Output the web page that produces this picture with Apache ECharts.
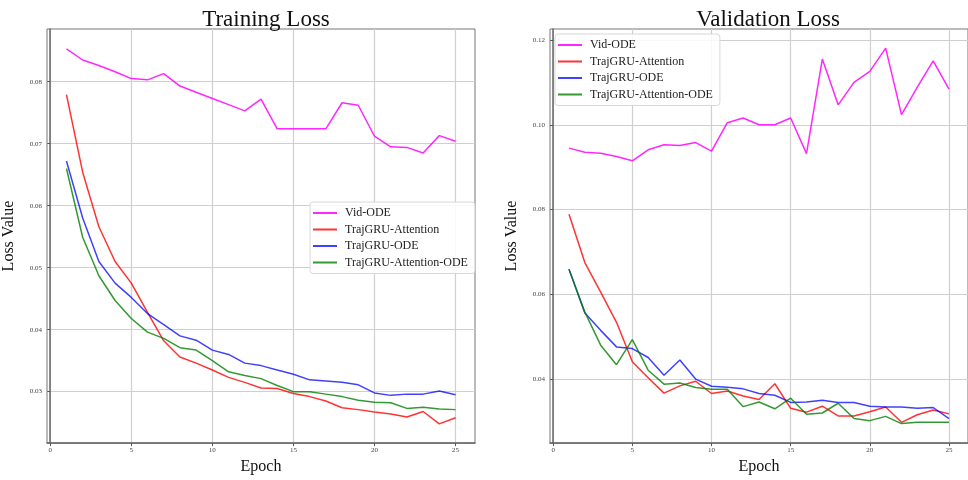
<!DOCTYPE html>
<html><head><meta charset="utf-8">
<script src="https://cdn.jsdelivr.net/npm/echarts@6/dist/echarts.min.js"></script>
<style>html,body{margin:0;padding:0;background:#fff}#c{width:968px;height:480px}</style>
</head><body><div id="c"></div>
<script>
const epochs = [1,2,3,4,5,6,7,8,9,10,11,12,13,14,15,16,17,18,19,20,21,22,23,24,25];
const seriesNames = ['Vid-ODE','TrajGRU-Attention','TrajGRU-ODE','TrajGRU-Attention-ODE'];
const xTicks = [0,5,10,15,20,25];
const trainTicks = [0.03,0.04,0.05,0.06,0.07,0.08];
const valTicks = [0.04,0.06,0.08,0.10,0.12];

const trainVidODE = [0.0853,0.0835,0.0826,0.0816,0.0805,0.0803,0.0813,0.0793,0.0783,0.0773,0.0763,0.0753,0.0772,0.0724,0.0724,0.0724,0.0724,0.0766,0.0762,0.0712,0.0695,0.0694,0.0685,0.0713,0.0704];
const trainAttn = [0.0779,0.0654,0.0566,0.0510,0.0475,0.0428,0.0382,0.0356,0.0346,0.0335,0.0323,0.0315,0.0306,0.0305,0.0297,0.0292,0.0285,0.0274,0.0271,0.0267,0.0264,0.0259,0.0268,0.0248,0.0258];
const trainODE = [0.0672,0.0580,0.0510,0.0475,0.0452,0.0426,0.0408,0.0390,0.0383,0.0367,0.0360,0.0346,0.0342,0.0335,0.0328,0.0319,0.0317,0.0315,0.0311,0.0298,0.0294,0.0296,0.0296,0.0301,0.0295];
const trainAttnODE = [0.0660,0.0549,0.0487,0.0447,0.0418,0.0396,0.0386,0.0371,0.0367,0.0350,0.0332,0.0326,0.0321,0.0310,0.0300,0.0300,0.0296,0.0292,0.0286,0.0283,0.0282,0.0273,0.0275,0.0272,0.0271];

const valVidODE = [0.0945,0.0935,0.0933,0.0925,0.0915,0.0941,0.0953,0.0951,0.0958,0.0938,0.1005,0.1016,0.1000,0.1000,0.1016,0.0932,0.1155,0.1047,0.1100,0.1126,0.1181,0.1024,0.1089,0.1151,0.1084];
const valAttn = [0.0789,0.0675,0.0605,0.0534,0.0441,0.0403,0.0367,0.0384,0.0395,0.0366,0.0372,0.0360,0.0352,0.0389,0.0331,0.0322,0.0336,0.0313,0.0313,0.0323,0.0334,0.0298,0.0316,0.0327,0.0318];
const valODE = [0.0659,0.0556,0.0515,0.0476,0.0472,0.0451,0.0409,0.0445,0.0400,0.0383,0.0381,0.0377,0.0366,0.0362,0.0345,0.0346,0.0350,0.0345,0.0345,0.0336,0.0334,0.0334,0.0331,0.0333,0.0307];
const valAttnODE = [0.0659,0.0558,0.0480,0.0434,0.0493,0.0421,0.0388,0.0391,0.0380,0.0376,0.0376,0.0335,0.0346,0.0330,0.0355,0.0317,0.0320,0.0343,0.0307,0.0302,0.0312,0.0295,0.0298,0.0298,0.0298];

const colors = ['rgba(255,0,255,0.85)','rgba(255,0,0,0.8)','rgba(0,0,255,0.75)','rgba(0,128,0,0.8)'];
const serif = "'Liberation Serif','Times New Roman',serif";

function pairs(arr){ return epochs.map((e,i)=>[e,arr[i]]); }

function xAxis(gi){
  return {
    type:'value', gridIndex:gi, min:-0.2, max:26.2,
    name:'Epoch', nameLocation:'middle', nameGap:12,
    nameTextStyle:{fontFamily:serif,fontSize:16,color:'#111'},
    axisLine:{show:true,lineStyle:{color:'#666',width:1.5}},
    axisTick:{show:true,length:3,customValues:xTicks,lineStyle:{color:'#555'}},
    axisLabel:{customValues:xTicks,fontFamily:serif,fontSize:7,color:'#444',margin:4,formatter:v=>String(v)},
    splitLine:{show:true,lineStyle:{color:'#cfcfcf',width:1.2}}
  };
}
function yAxis(gi,min,max,ticks){
  return {
    type:'value', gridIndex:gi, min:min, max:max,
    name:'Loss Value', nameLocation:'middle', nameGap:30,
    nameTextStyle:{fontFamily:serif,fontSize:16,color:'#111'},
    axisLine:{show:true,lineStyle:{color:'#666',width:1.5}},
    axisTick:{show:true,length:3,customValues:ticks,lineStyle:{color:'#555'}},
    axisLabel:{customValues:ticks,fontFamily:serif,fontSize:7,color:'#444',margin:5,formatter:v=>v.toFixed(2)},
    splitLine:{show:true,lineStyle:{color:'#cfcfcf',width:1.2}}
  };
}
function legend(left,top){
  return {
    orient:'vertical', left:left, top:top, data:seriesNames,
    icon:'rect', itemWidth:24, itemHeight:2, itemGap:4.5,
    backgroundColor:'rgba(255,255,255,0.85)', borderColor:'#d8d8d8', borderWidth:1, borderRadius:3,
    padding:[5,7,5,3],
    textStyle:{fontFamily:serif,fontSize:12,color:'#222',padding:[0,0,0,3]},
    selectedMode:false
  };
}
const trainData = [trainVidODE,trainAttn,trainODE,trainAttnODE];
const valData = [valVidODE,valAttn,valODE,valAttnODE];
const series = [];
trainData.forEach((d,i)=>series.push({type:'line',name:seriesNames[i],xAxisIndex:0,yAxisIndex:0,data:pairs(d),symbol:'none',lineStyle:{width:1.5,color:colors[i]},itemStyle:{color:colors[i]},animation:false,z:3}));
valData.forEach((d,i)=>series.push({type:'line',name:seriesNames[i],xAxisIndex:1,yAxisIndex:1,data:pairs(d),symbol:'none',lineStyle:{width:1.5,color:colors[i]},itemStyle:{color:colors[i]},animation:false,z:3}));

const chart = echarts.init(document.getElementById('c'),null,{renderer:'canvas'});
chart.setOption({
  animation:false,
  backgroundColor:'#fff',
  title:[
    {text:'Training Loss',left:261,top:3,textAlign:'center',textStyle:{fontFamily:serif,fontSize:23,fontWeight:'normal',color:'#111'}},
    {text:'Validation Loss',left:763,top:3,textAlign:'center',textStyle:{fontFamily:serif,fontSize:23,fontWeight:'normal',color:'#111'}}
  ],
  grid:[
    {left:47,top:29,width:428,height:418,show:true,borderColor:'#777',borderWidth:1,backgroundColor:'transparent'},
    {left:550,top:29,width:427,height:418,show:true,borderColor:'#777',borderWidth:1,backgroundColor:'transparent'}
  ],
  xAxis:[xAxis(0),xAxis(1)],
  yAxis:[yAxis(0,0.0217,0.0885,trainTicks),yAxis(1,0.0249,0.1226,valTicks)],
  legend:[legend(310,202),legend(555,34)],
  series:series
});
</script></body></html>
